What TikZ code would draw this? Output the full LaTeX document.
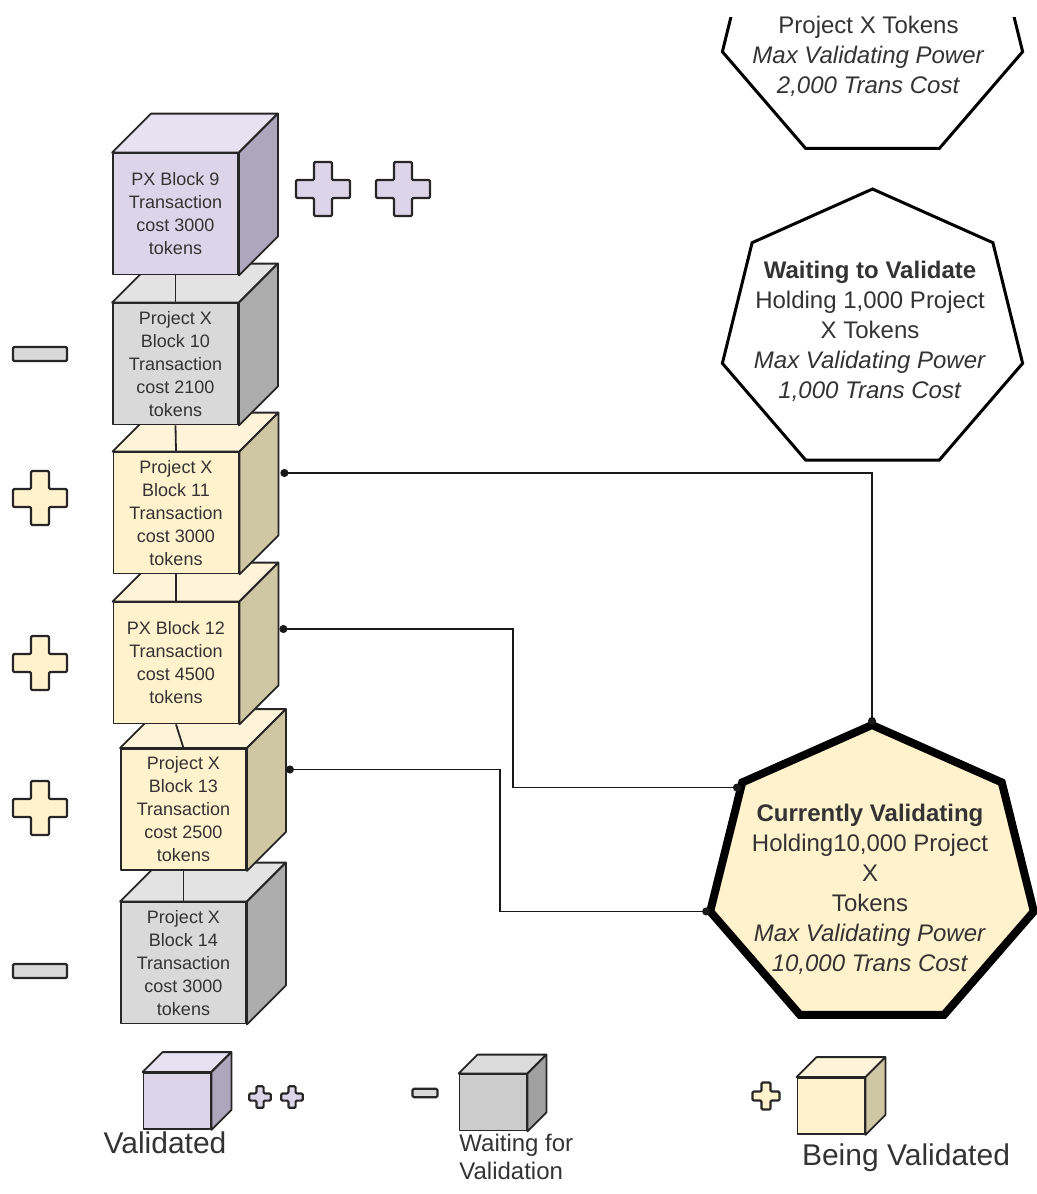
\documentclass[tikz,border=0pt]{standalone}
\usepackage{fontspec}
\setmainfont{Liberation Sans}
\usetikzlibrary{arrows.meta,positioning,calc}

\definecolor{valfront}{HTML}{DCD5EA}
\definecolor{valtop}{HTML}{E6E2F1}
\definecolor{valside}{HTML}{ADA7BE}
\definecolor{waitfront}{HTML}{D9D9D9}
\definecolor{waittop}{HTML}{E3E3E3}
\definecolor{waitside}{HTML}{ADADAD}
\definecolor{beingfront}{HTML}{FFF2CC}
\definecolor{beingtop}{HTML}{FFF4D9}
\definecolor{beingside}{HTML}{CFC6A3}
\definecolor{inktext}{HTML}{333333}

\tikzset{
  cubeline/.style={
    draw=black!85,
    line width=0.9pt,
    line join=round
  },
  cubefront/.style={
    cubeline,
    minimum width=62.5pt,
    minimum height=60.5pt,
    inner sep=0pt,
    align=center,
    text=inktext,
    font=\fontsize{9}{11.5}\selectfont
  },
  keyfront/.style={
    cubeline,
    minimum width=33.5pt,
    minimum height=28pt,
    inner sep=0pt
  },
  signmark/.style={
    draw=black!85,
    line width=1.1pt,
    line join=round,
    rounded corners=0.6pt
  },
  hepttext/.style={
    align=center,
    inner sep=0pt,
    text=inktext,
    font=\fontsize{12}{15}\selectfont
  },
  thinhept/.style={
    draw=black,
    line width=1.5pt,
    fill=white
  },
  thickhept/.style={
    draw=black,
    line width=4pt,
    fill=beingfront
  },
  link/.style={
    draw=black!90,
    line width=0.8pt,
    arrows={Circle[length=4pt]-Circle[length=4pt]}
  },
  keytext/.style={
    inner sep=0pt,
    text=inktext,
    font=\fontsize{15}{17}\selectfont
  },
  plusmark/.pic={
    \path[pic actions] (-9,-27) -- (9,-27) -- (9,-9) -- (27,-9) -- (27,9) -- (9,9)
      -- (9,27) -- (-9,27) -- (-9,9) -- (-27,9) -- (-27,-9) -- (-9,-9) -- cycle;
  },
  minusmark/.pic={
    \path[pic actions] (-27,-7) rectangle (27,7);
  }
}

% top and side faces of a block, drawn from its front node
\newcommand{\cubefaces}[4]{%
  \draw[cubeline, fill=#3] (#1.north west) -- ++(#2,-#2)
    -- ([shift={(#2,-#2)}]#1.north east) -- (#1.north east) -- cycle;
  \draw[cubeline, fill=#4] (#1.north east) -- ++(#2,-#2)
    -- ([shift={(#2,-#2)}]#1.south east) -- (#1.south east) -- cycle;
}

\begin{document}
\begin{tikzpicture}[x=0.5pt, y=-0.5pt]
  \useasboundingbox (0,0) rectangle (1037,1194);

  % validators
  \begin{scope}
    \clip (0,17) rectangle (1037,1194);
    \begin{scope}[shift={(872.5,20)}]
      \draw[thinhept] (-90:154 and 142.6)
        \foreach \k in {1,...,6}{ -- (-90+\k*360/7:154 and 142.6)} -- cycle;
    \end{scope}
  \end{scope}
  \node[hepttext] (prev-text) at (868.5,56.5)
    {Project X Tokens\\\textit{Max Validating Power}\\\textit{2,000 Trans Cost}};

  \begin{scope}[shift={(872.5,331.6)}]
    \draw[thinhept] (-90:154 and 142.6)
      \foreach \k in {1,...,6}{ -- (-90+\k*360/7:154 and 142.6)} -- cycle;
  \end{scope}
  \node[hepttext] (wait-text) at (870,331.5)
    {\textbf{Waiting to Validate}\\Holding 1,000 Project\\X Tokens\\
     \textit{Max Validating Power}\\\textit{1,000 Trans Cost}};

  % block chain, lowest first
  \node[cubefront, fill=waitfront] (c14) at (183.5,963)
    {Project X\\Block 14\\Transaction\\cost 3000\\tokens};
  \cubefaces{c14}{39}{waittop}{waitside}
  \node[cubefront, fill=beingfront] (c13) at (183.5,809.5)
    {Project X\\Block 13\\Transaction\\cost 2500\\tokens};
  \cubefaces{c13}{39}{beingtop}{beingside}
  \node[cubefront, fill=beingfront] (c12) at (176,663)
    {PX Block 12\\Transaction\\cost 4500\\tokens};
  \cubefaces{c12}{39}{beingtop}{beingside}
  \node[cubefront, fill=beingfront] (c11) at (176,513)
    {Project X\\Block 11\\Transaction\\cost 3000\\tokens};
  \cubefaces{c11}{39}{beingtop}{beingside}
  \node[cubefront, fill=waitfront] (c10) at (175.5,364)
    {Project X\\Block 10\\Transaction\\cost 2100\\tokens};
  \cubefaces{c10}{39}{waittop}{waitside}
  \node[cubefront, fill=valfront] (c9) at (175.5,214)
    {PX Block 9\\Transaction\\cost 3000\\tokens};
  \cubefaces{c9}{39}{valtop}{valside}

  \draw[cubeline] (c9.south) -- (c10.north);
  \draw[cubeline] (c10.south) -- (c11.north);
  \draw[cubeline] (c11.south) -- (c12.north);
  \draw[cubeline] (c12.south) -- (c13.north);
  \draw[cubeline] (c13.south) -- (c14.north);

  % state marks
  \pic[signmark, fill=valfront] at (323,189) {plusmark};
  \pic[signmark, fill=valfront] at (403,189) {plusmark};
  \pic[signmark, fill=waitfront] at (40,354) {minusmark};
  \pic[signmark, fill=beingfront] at (40,498) {plusmark};
  \pic[signmark, fill=beingfront] at (40,663) {plusmark};
  \pic[signmark, fill=beingfront] at (40,808) {plusmark};
  \pic[signmark, fill=waitfront] at (40,971) {minusmark};

  % current validator
  \begin{scope}[shift={(872,877.5)}]
    \draw[thickhept] (-90:166 and 152.5)
      \foreach \k in {1,...,6}{ -- (-90+\k*360/7:166 and 152.5)} -- cycle;
    \coordinate (cur-top) at (-90:166 and 152.5);
    \coordinate (cur-ul) at (-90-360/7:166 and 152.5);
    \coordinate (cur-left) at (-90-720/7:166 and 152.5);
  \end{scope}
  \coordinate (cur-in) at ($(cur-ul)!0.04!(cur-left)$);
  \node[hepttext] (cur-text) at (870,889.5)
    {\textbf{Currently Validating}\\Holding10,000 Project\\X\\Tokens\\
     \textit{Max Validating Power}\\\textit{10,000 Trans Cost}};

  \coordinate (c11-out) at ([shift={(41,-40)}]c11.east);
  \coordinate (c12-out) at ([shift={(40,-34)}]c12.east);
  \coordinate (c13-out) at ([shift={(39,-40)}]c13.east);
  \draw[link] (c11-out) -| (cur-top);
  \draw[link] (c12-out) -- ++(233.5,0) |- (cur-in);
  \draw[link] (c13-out) -- ++(214,0) |- (cur-left);

  % legend
  \node[keyfront, fill=valfront] (k-val) at (177,1101) {};
  \cubefaces{k-val}{20}{valtop}{valside}
  \pic[signmark, fill=valfront, scale=0.4] at (260,1097) {plusmark};
  \pic[signmark, fill=valfront, scale=0.4] at (292,1097) {plusmark};
  \node[keytext] (k-val-label) at (165,1143) {Validated};

  \pic[signmark, fill=waitfront, xscale=0.46, yscale=0.6] at (425,1093) {minusmark};
  \node[keyfront, fill=black!20] (k-wait) at (493,1102.5) {};
  \cubefaces{k-wait}{19}{black!14}{black!37}
  \node[keytext, anchor=west, align=left, font=\fontsize{12}{14}\selectfont]
    (k-wait-label) at (459,1157) {Waiting for\\Validation};

  \pic[signmark, fill=beingfront, scale=0.5] at (766,1096) {plusmark};
  \node[keyfront, fill=beingfront] (k-being) at (831,1106) {};
  \cubefaces{k-being}{20}{beingtop}{beingside}
  \node[keytext] (k-being-label) at (906,1158) {Being Validated};
\end{tikzpicture}
\end{document}
